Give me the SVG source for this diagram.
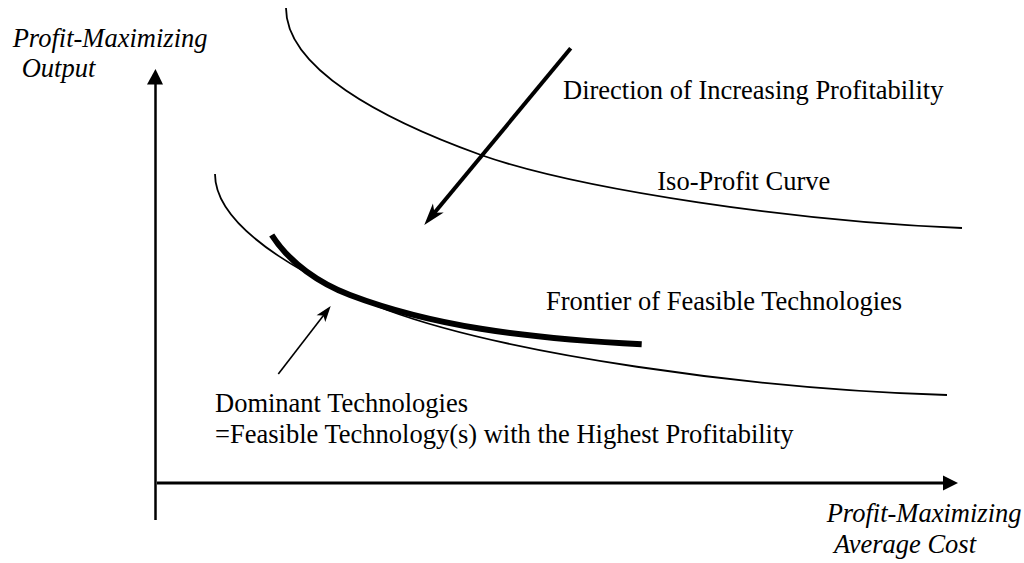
<svg xmlns="http://www.w3.org/2000/svg" width="1024" height="563" viewBox="0 0 1024 563">
<style>
text{font-family:"Liberation Serif","Times New Roman",serif;font-size:26.5px;fill:#000}
.it{font-style:italic}
.curve{fill:none;stroke:#000;stroke-width:1.8}
.thick{fill:none;stroke:#000;stroke-width:6}
.axis{fill:none;stroke:#000}
</style>
<defs>
<marker id="bigHead" markerUnits="userSpaceOnUse" markerWidth="40" markerHeight="40" refX="0" refY="0" viewBox="-20 -20 40 40" orient="auto" overflow="visible">
<path d="M14,0 L-8,-7 L-2,0 L-8,7 Z" fill="#000"/>
</marker>
<marker id="smallHead" markerUnits="userSpaceOnUse" markerWidth="30" markerHeight="30" refX="0" refY="0" viewBox="-15 -15 30 30" orient="auto" overflow="visible">
<path d="M10,0 L-6,-5.5 L-2,0 L-6,5.5 Z" fill="#000"/>
</marker>
</defs>
<rect width="1024" height="563" fill="#fff"/>
<g id="axes">
<line class="axis" x1="155.5" y1="520" x2="155.5" y2="82" stroke-width="2.5"/>
<polygon points="147,84.5 163,84.5 155.5,69" fill="#000"/>
<line class="axis" x1="157" y1="483" x2="945" y2="483" stroke-width="3"/>
<polygon points="943,475.5 943,490.5 958,483" fill="#000"/>
</g>
<g id="iso-profit-curve">
<path class="curve" d="M286,8 C286,68 381,119 481,155 C581,190 800,222 962,228"/>
</g>
<g id="frontier">
<path class="curve" d="M215,174 C215,234 327,287 387,310 C507,354 747,389 947,395"/>
</g>
<g id="dominant">
<path class="thick" d="M271.7,235 C289.7,263.3 320,283.6 350,295 C430,325.4 521.7,338.3 641.7,344.3"/>
</g>
<g id="connectors">
<line x1="570.7" y1="48.3" x2="433.2" y2="214.2" stroke="#000" stroke-width="4" marker-end="url(#bigHead)"/>
<line x1="278.3" y1="374" x2="324.6" y2="313.9" stroke="#000" stroke-width="1.6" marker-end="url(#smallHead)"/>
</g>
<g id="labels">
<text class="it" x="12.7" y="46.7">Profit-Maximizing</text>
<text class="it" x="21.7" y="77">Output</text>
<text x="563" y="99.3">Direction of Increasing Profitability</text>
<text x="657.3" y="190">Iso-Profit Curve</text>
<text x="546" y="310">Frontier of Feasible Technologies</text>
<text x="215" y="411.7">Dominant Technologies</text>
<text x="215" y="442.7">=Feasible Technology(s) with the Highest Profitability</text>
<text class="it" x="826.7" y="521.7">Profit-Maximizing</text>
<text class="it" x="834" y="553.3">Average Cost</text>
</g>
</svg>
